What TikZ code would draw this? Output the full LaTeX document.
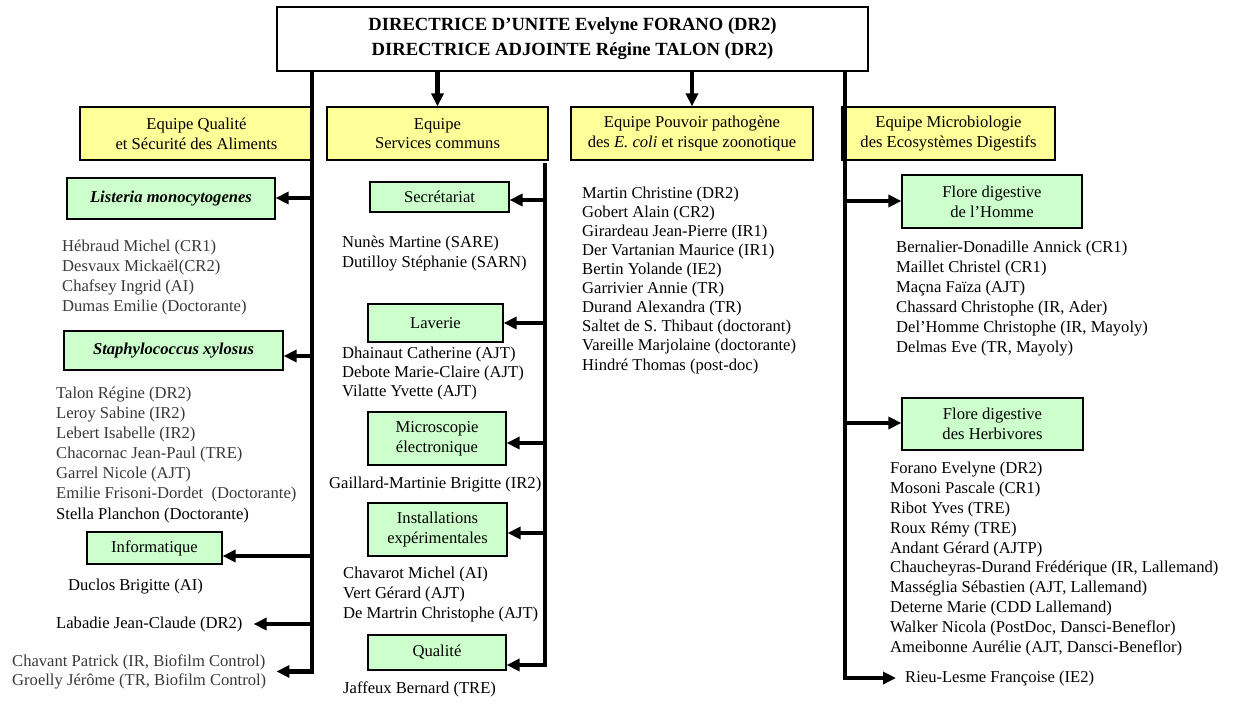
\documentclass[tikz,border=0pt]{standalone}
\usepackage{fontspec}
\setmainfont{Liberation Serif}
\usepackage{tikz}
\usetikzlibrary{positioning}
\usetikzlibrary{arrows.meta}

\definecolor{teamyellow}{HTML}{FFFF99}
\definecolor{groupgreen}{HTML}{CCFFCC}
\definecolor{lightname}{gray}{0.22}

\newcommand{\orgfont}{\fontsize{16.6}{19.8}\selectfont}
\newcommand{\headfont}{\fontsize{18.6}{25}\selectfont\bfseries}

\begin{document}
\begin{tikzpicture}[x=1pt,y=-1pt]

\tikzset{head box/.style={
		draw, fill=white, line width=1.2pt,
		minimum width=591pt, minimum height=64pt,
		align=center, font=\headfont, inner sep=0pt
	},
	team box/.style={
		draw, fill=teamyellow, line width=1.2pt,
		minimum width=#1, minimum height=53pt,
		align=center, font=\orgfont, inner sep=0pt
	},
	team box/.default=220pt,
	group box/.style={
		draw, fill=groupgreen, line width=1.2pt,
		align=center, font=\orgfont, inner sep=0pt
	},
	names/.style={anchor=base west, align=left, font=\orgfont, inner sep=0pt},
	light names/.style={names, text=lightname},
	spine/.style={line width=4.5pt, line join=miter},
	link/.style={spine, -{Triangle[length=13pt,width=12pt]}}
}
\useasboundingbox (0,0) rectangle (1235,704);

% direction et equipes
\node[head box] (direction) at (572.5,39) {DIRECTRICE D’UNITE Evelyne FORANO (DR2)\\DIRECTRICE ADJOINTE Régine TALON (DR2)};
\node[team box=233pt] (qsa) at (196.5,133.5) {Equipe Qualité\\et Sécurité des Aliments};
\node[team box=221pt] (services) at (437.5,133.5) {Equipe\\Services communs};
\node[team box=242pt] (coli) at (692,133.5) {Equipe Pouvoir pathogène\\des \textit{E. coli} et risque zoonotique};
\node[team box=213pt] (med) at (948.5,133.5) {Equipe Microbiologie\\des Ecosystèmes Digestifs};

% groupes
\node[group box, minimum width=208pt, minimum height=41pt] (listeria) at (171,198.5) {\textbf{\textit{Listeria monocytogenes}}};
\node[group box, minimum width=219pt, minimum height=39pt] (staph) at (173.5,350.5) {\textbf{\textit{Staphylococcus xylosus}}};
\node[group box, minimum width=135pt, minimum height=32pt] (info) at (154.5,548) {Informatique};
\node[group box, minimum width=139pt, minimum height=30pt] (secr) at (439.5,197) {Secrétariat};
\node[group box, minimum width=135pt, minimum height=38pt] (laverie) at (435.5,323) {Laverie};
\node[group box, minimum width=138pt, minimum height=53pt] (micro) at (437,438.5) {Microscopie\\électronique};
\node[group box, minimum width=139pt, minimum height=53pt] (install) at (437.5,529.5) {Installations\\expérimentales};
\node[group box, minimum width=138pt, minimum height=35pt] (qualite) at (437,652.5) {Qualité};
\node[group box, minimum width=180pt, minimum height=53pt] (homme) at (992,201.5) {Flore digestive\\de l’Homme};
\node[group box, minimum width=181pt, minimum height=52pt] (herbi) at (992.5,424) {Flore digestive\\des Herbivores};

% personnels (placed at the baseline of the last line)
\node[light names, font={\fontsize{16.6}{20}\selectfont}] (listeria staff) at (62,311) {Hébraud Michel (CR1)\\Desvaux Mickaël(CR2)\\Chafsey Ingrid (AI)\\Dumas Emilie (Doctorante)};
\node[light names, font={\fontsize{16.6}{20.1}\selectfont}] (staph staff) at (56,519) {Talon Régine (DR2)\\Leroy Sabine (IR2)\\Lebert Isabelle (IR2)\\Chacornac Jean-Paul (TRE)\\Garrel Nicole (AJT)\\Emilie Frisoni-Dordet\ \ (Doctorante)\\\textcolor{black}{Stella Planchon (Doctorante)}};
\node[names] (info staff) at (68,590) {Duclos Brigitte (AI)};
\node[names] (labadie) at (56,628) {Labadie Jean-Claude (DR2)};
\node[light names, font={\fontsize{16.6}{19}\selectfont}] (biofilm) at (12,685) {Chavant Patrick (IR, Biofilm Control)\\Groelly Jérôme (TR, Biofilm Control)};

\node[names, font={\fontsize{16.6}{20}\selectfont}] (secr staff) at (342,267) {Nunès Martine (SARE)\\Dutilloy Stéphanie (SARN)};
\node[names, font={\fontsize{16.6}{19}\selectfont}] (laverie staff) at (342,396) {Dhainaut Catherine (AJT)\\Debote Marie-Claire (AJT)\\Vilatte Yvette (AJT)};
\node[names] (micro staff) at (329,488) {Gaillard-Martinie Brigitte (IR2)};
\node[names, font={\fontsize{16.6}{20}\selectfont}] (install staff) at (343,618) {Chavarot Michel (AI)\\Vert Gérard (AJT)\\De Martrin Christophe (AJT)};
\node[names] (qualite staff) at (343,693) {Jaffeux Bernard (TRE)};

\node[names, font={\fontsize{16.6}{19.1}\selectfont}] (coli staff) at (582,370) {Martin Christine (DR2)\\Gobert Alain (CR2)\\Girardeau Jean-Pierre (IR1)\\Der Vartanian Maurice (IR1)\\Bertin Yolande (IE2)\\Garrivier Annie (TR)\\Durand Alexandra (TR)\\Saltet de S. Thibaut (doctorant)\\Vareille Marjolaine (doctorante)\\Hindré Thomas (post-doc)};

\node[names, font={\fontsize{16.6}{20}\selectfont}] (homme staff) at (896,352) {Bernalier-Donadille Annick (CR1)\\Maillet Christel (CR1)\\Maçna Faïza (AJT)\\Chassard Christophe (IR, Ader)\\Del’Homme Christophe (IR, Mayoly)\\Delmas Eve (TR, Mayoly)};
\node[names] (herbi staff) at (890,652) {Forano Evelyne (DR2)\\Mosoni Pascale (CR1)\\Ribot Yves (TRE)\\Roux Rémy (TRE)\\Andant Gérard (AJTP)\\Chaucheyras-Durand Frédérique (IR, Lallemand)\\Masséglia Sébastien (AJT, Lallemand)\\Deterne Marie (CDD Lallemand)\\Walker Nicola (PostDoc, Dansci-Beneflor)\\Ameibonne Aurélie (AJT, Dansci-Beneflor)};
\node[names] (rieu) at (905,682) {Rieu-Lesme Françoise (IE2)};

% liaisons
\draw[link] (direction.south -| services.north) -- (services.north);
\draw[link] (direction.south -| coli.north) -- (coli.north);

\coordinate (qsa spine) at (312,71);
\coordinate (sc spine) at (545,163);
\coordinate (med spine) at (845,71);
\coordinate (sc end) at (545,665);

\draw[link, shorten >=10pt] (qsa spine) |- (biofilm.east);
\draw[link] (sc spine) -- (sc end) -- (sc end -| qualite.east);
\draw[link, shorten >=9pt] (med spine) |- (rieu.west);

\foreach \y/\t in {198/listeria, 356/staph, 556/info}{
	\coordinate (b) at (312,\y);
	\draw[link] (b) -- (b -| \t.east);
}
\draw[link, shorten >=11pt] (qsa spine |- labadie.east) -- (labadie.east);
\foreach \y/\t in {200/secr, 323/laverie, 443/micro, 533/install}{
	\coordinate (b) at (545,\y);
	\draw[link] (b) -- (b -| \t.east);
}
\foreach \y/\t in {201/homme, 423/herbi}{
	\coordinate (b) at (845,\y);
	\draw[link] (b) -- (b -| \t.west);
}
\end{tikzpicture}
\end{document}
